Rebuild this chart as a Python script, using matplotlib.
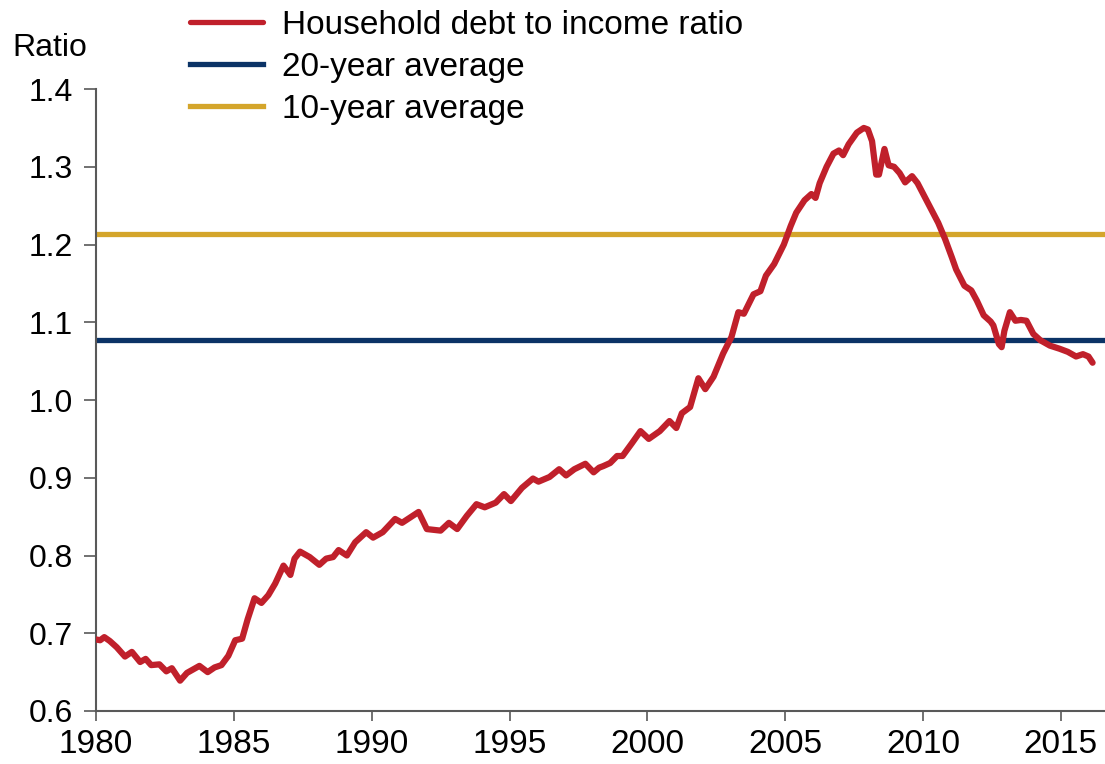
import matplotlib
matplotlib.use("Agg")
import matplotlib.pyplot as plt

# household debt to income ratio
years = [
    1980.0, 1980.15, 1980.3, 1980.5, 1980.75, 1981.05, 1981.3, 1981.6, 1981.8, 1982.0,
    1982.3, 1982.55, 1982.75, 1983.05, 1983.3, 1983.45, 1983.75, 1984.05, 1984.3, 1984.55,
    1984.8, 1985.05, 1985.3, 1985.5, 1985.75, 1986.0, 1986.25, 1986.5, 1986.8, 1987.05,
    1987.2, 1987.4, 1987.75, 1988.1, 1988.35, 1988.6, 1988.8, 1989.1, 1989.4, 1989.8,
    1990.05, 1990.4, 1990.85, 1991.1, 1991.4, 1991.7, 1992.0, 1992.5, 1992.8, 1993.1,
    1993.45, 1993.8, 1994.1, 1994.5, 1994.8, 1995.05, 1995.45, 1995.85, 1996.05, 1996.45,
    1996.8, 1997.05, 1997.35, 1997.75, 1998.05, 1998.25, 1998.4, 1998.65, 1998.9, 1999.1,
    1999.45, 1999.75, 2000.05, 2000.45, 2000.8, 2001.05, 2001.25, 2001.55, 2001.85, 2002.1,
    2002.4, 2002.75, 2003.05, 2003.3, 2003.5, 2003.85, 2004.1, 2004.3, 2004.6, 2004.95,
    2005.2, 2005.4, 2005.7, 2005.95, 2006.1, 2006.25, 2006.5, 2006.75, 2006.95, 2007.1,
    2007.3, 2007.6, 2007.85, 2008.0, 2008.15, 2008.3, 2008.4, 2008.6, 2008.75, 2008.95,
    2009.15, 2009.35, 2009.6, 2009.8, 2010.05, 2010.3, 2010.55, 2010.8, 2011.05, 2011.2,
    2011.5, 2011.75, 2011.95, 2012.2, 2012.45, 2012.55, 2012.75, 2012.85, 2012.95, 2013.15,
    2013.35, 2013.55, 2013.75, 2014.0, 2014.25, 2014.6, 2014.95, 2015.25, 2015.55, 2015.8,
    2016.0, 2016.15,
]
ratio = [
    0.692, 0.691, 0.695, 0.690, 0.682, 0.670, 0.676, 0.663, 0.667, 0.659,
    0.660, 0.651, 0.655, 0.639, 0.649, 0.652, 0.658, 0.650, 0.656, 0.659,
    0.671, 0.691, 0.693, 0.718, 0.745, 0.739, 0.749, 0.764, 0.787, 0.775,
    0.796, 0.805, 0.798, 0.788, 0.796, 0.798, 0.807, 0.800, 0.817, 0.830,
    0.823, 0.830, 0.847, 0.842, 0.849, 0.856, 0.834, 0.832, 0.842, 0.834,
    0.851, 0.866, 0.862, 0.868, 0.879, 0.870, 0.887, 0.899, 0.895, 0.901,
    0.911, 0.903, 0.911, 0.918, 0.907, 0.913, 0.915, 0.919, 0.928, 0.928,
    0.945, 0.960, 0.950, 0.960, 0.973, 0.964, 0.983, 0.991, 1.028, 1.014,
    1.030, 1.060, 1.081, 1.113, 1.111, 1.136, 1.140, 1.160, 1.175, 1.200,
    1.224, 1.241, 1.257, 1.265, 1.260, 1.279, 1.300, 1.317, 1.321, 1.315,
    1.329, 1.344, 1.350, 1.348, 1.333, 1.290, 1.290, 1.323, 1.302, 1.300,
    1.292, 1.280, 1.288, 1.279, 1.262, 1.245, 1.228, 1.207, 1.183, 1.168,
    1.147, 1.141, 1.128, 1.109, 1.101, 1.096, 1.072, 1.068, 1.089, 1.113,
    1.102, 1.103, 1.102, 1.085, 1.077, 1.070, 1.066, 1.062, 1.056, 1.059,
    1.056, 1.048,
]
avg_20y = 1.077
avg_10y = 1.213

x_ticks = [1980, 1985, 1990, 1995, 2000, 2005, 2010, 2015]
y_ticks = [0.6, 0.7, 0.8, 0.9, 1.0, 1.1, 1.2, 1.3, 1.4]

red = "#C0202B"
navy = "#0B3366"
gold = "#D4A52B"
spine_col = "#595959"

plt.rcParams["font.family"] = ["Liberation Sans", "DejaVu Sans"]

fig = plt.figure(figsize=(11.05, 7.64), dpi=100)
ax = fig.add_axes([0.0869, 0.0694, 0.9131, 0.814])

ax.plot(years, ratio, color=red, lw=4.5, solid_capstyle="round",
        solid_joinstyle="round", label="Household debt to income ratio", zorder=3)
ax.axhline(avg_20y, color=navy, lw=3.8, label="20-year average", zorder=2)
ax.axhline(avg_10y, color=gold, lw=3.8, label="10-year average", zorder=2)

ax.set_xlim(1980, 2016.6)
ax.set_ylim(0.6, 1.4)
ax.set_xticks(x_ticks)
ax.set_yticks(y_ticks)
ax.set_yticklabels([f"{v:.1f}" for v in y_ticks])

for side in ("top", "right"):
    ax.spines[side].set_visible(False)
for side in ("left", "bottom"):
    ax.spines[side].set_color(spine_col)
    ax.spines[side].set_linewidth(1.5)

ax.tick_params(axis="y", direction="out", length=8.6, width=1.2, color=spine_col,
               labelsize=23, pad=8)
ax.tick_params(axis="x", direction="out", length=7, width=1.2, color=spine_col,
               labelsize=24, pad=6)

fig.text(0.011, 0.937, "Ratio", fontsize=23, ha="left", va="center")

leg = ax.legend(loc="upper left", bbox_to_anchor=(0.172, 0.987),
                bbox_transform=fig.transFigure, frameon=False, fontsize=24,
                handlelength=2.2, handletextpad=0.55, labelspacing=0.33,
                borderpad=0, borderaxespad=0)
for h in leg.get_lines():
    h.set_linewidth(3.8)

fig.savefig("out.png", dpi=100)
